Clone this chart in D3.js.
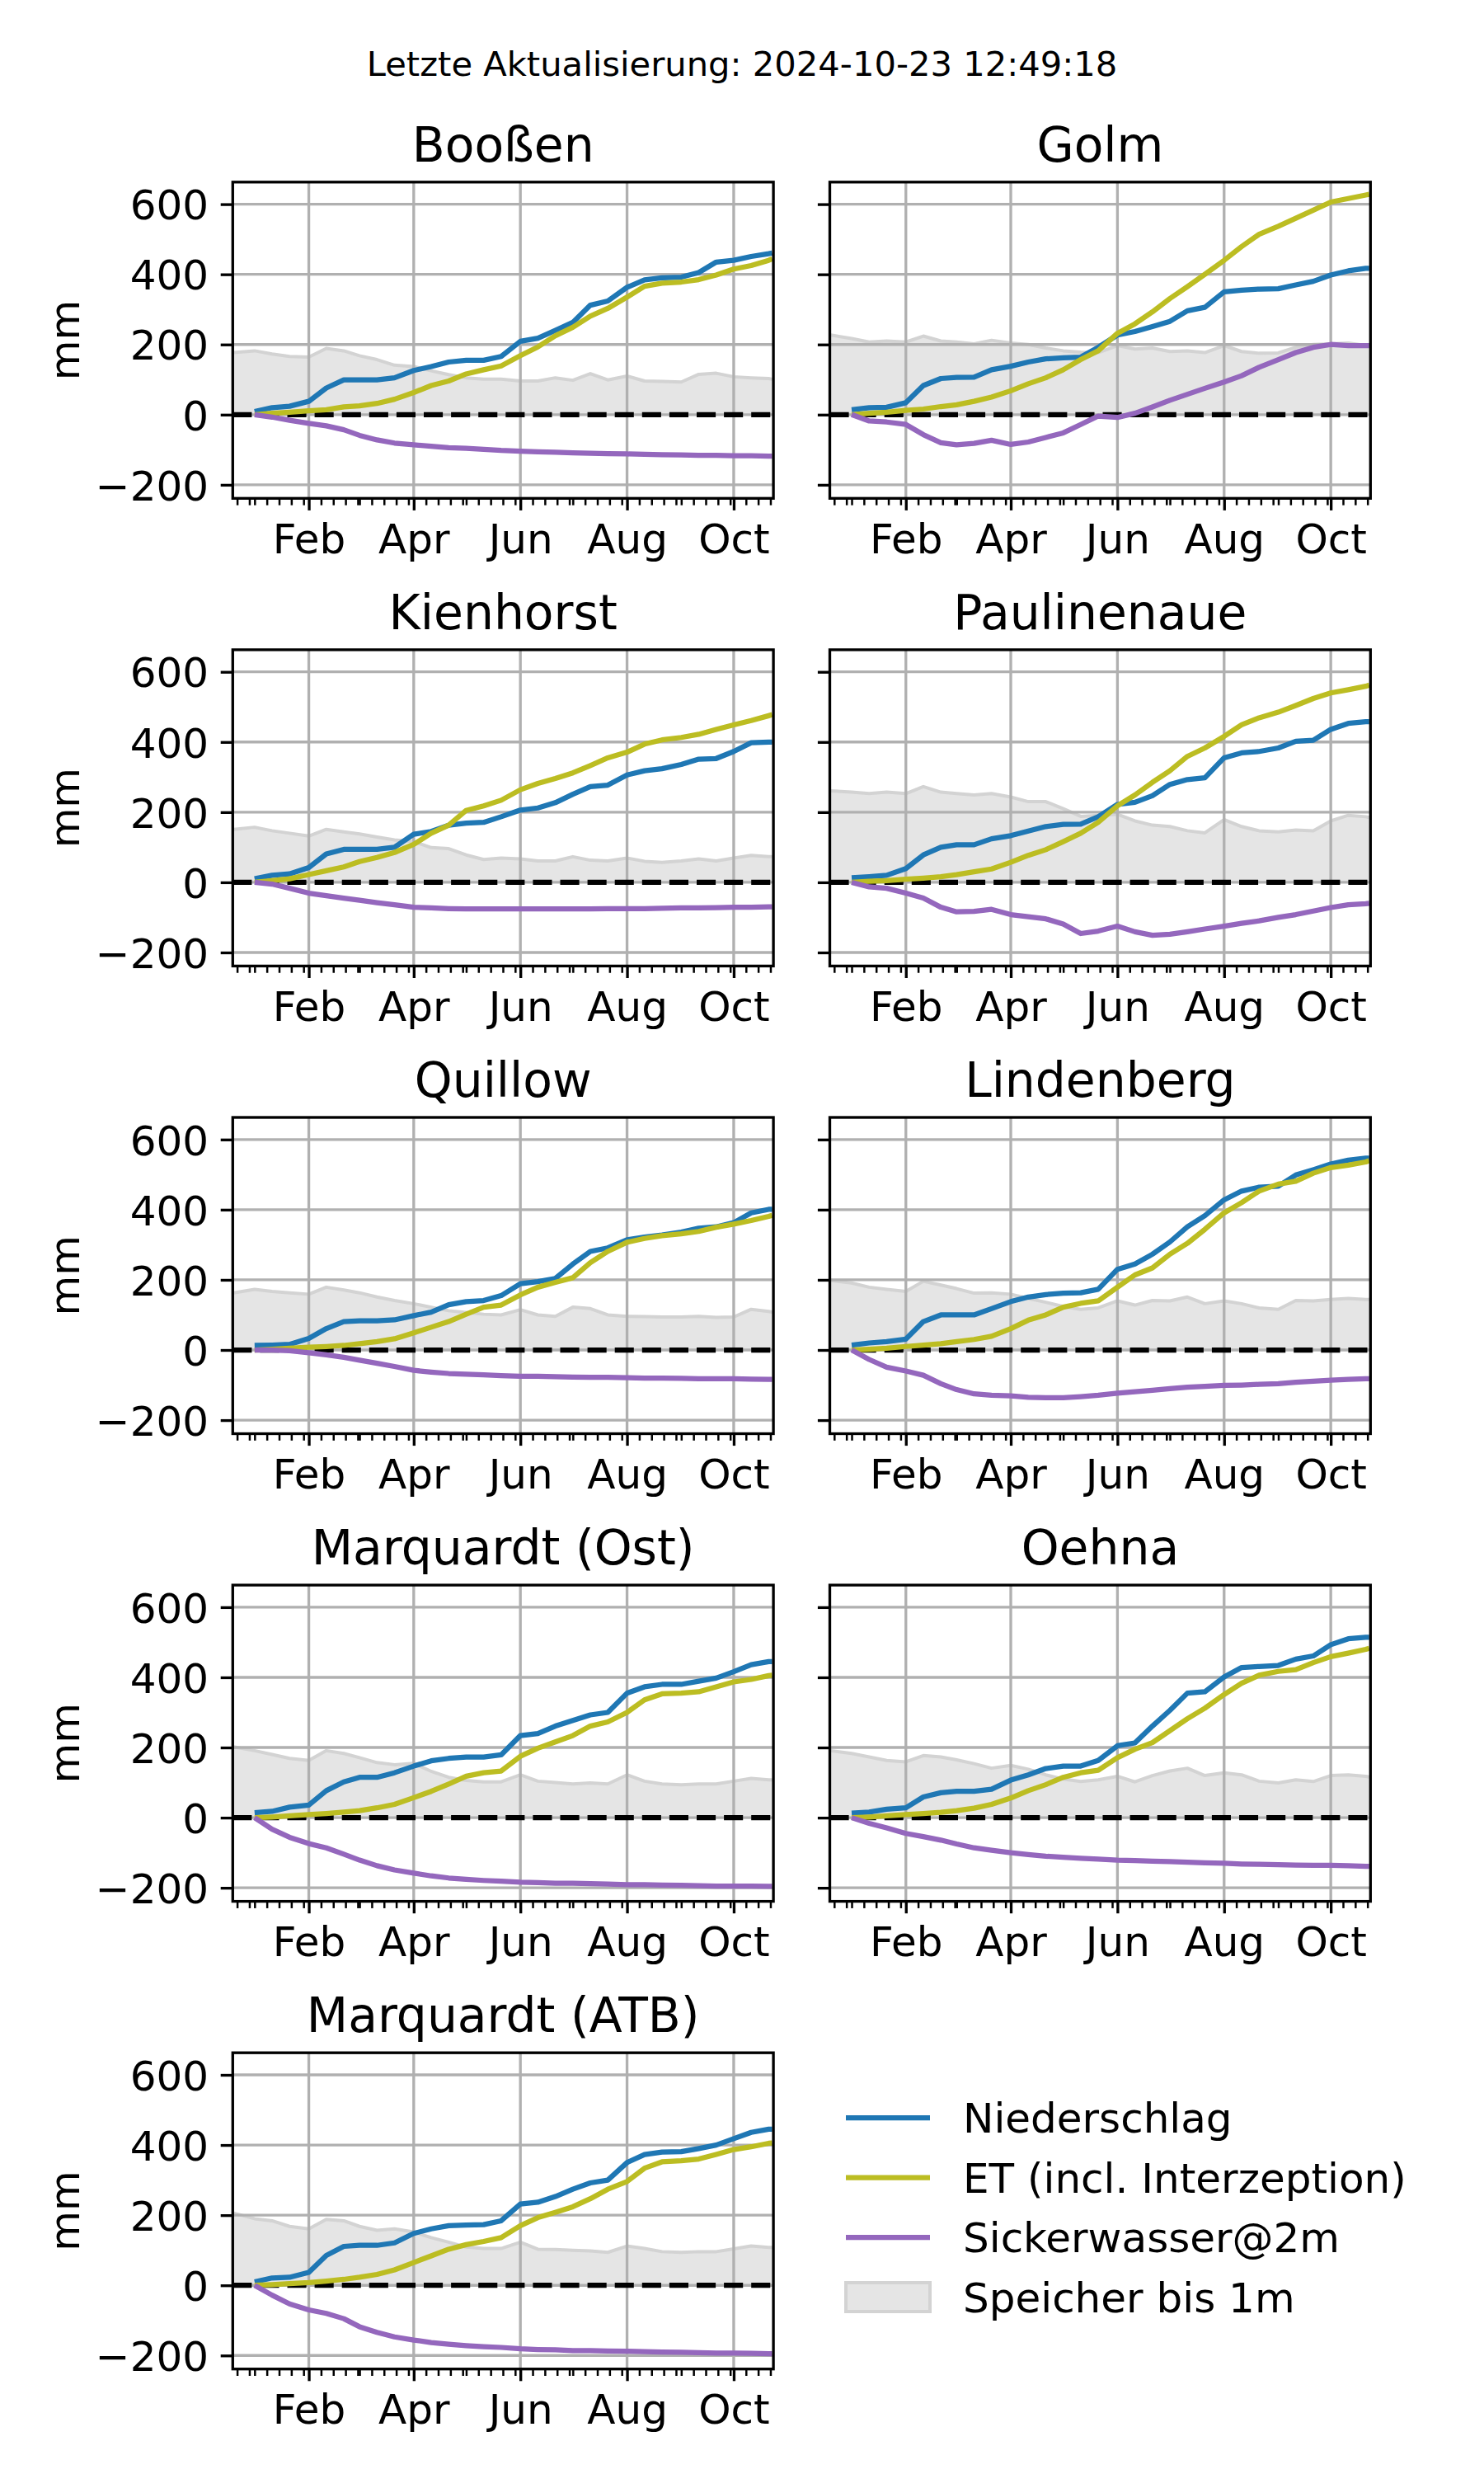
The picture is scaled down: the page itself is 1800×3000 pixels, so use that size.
<!DOCTYPE html>
<html><head><meta charset="utf-8">
<script src="https://cdn.jsdelivr.net/npm/d3@7"></script>
<style>body{margin:0;background:#fff}</style>
</head><body>
<script>
// ---------------- DATA ----------------
const updateText = "Letzte Aktualisierung: 2024-10-23 12:49:18";
const stations = ["Booßen","Golm","Kienhorst","Paulinenaue","Quillow","Lindenberg","Marquardt (Ost)","Oehna","Marquardt (ATB)"];
const seriesNames = ["Niederschlag","ET (incl. Interzeption)","Sickerwasser@2m","Speicher bis 1m"];
const dates = ["2024-01-01","2024-01-11","2024-01-21","2024-02-01","2024-02-11","2024-02-21","2024-03-01","2024-03-11","2024-03-21",
  "2024-04-01","2024-04-11","2024-04-21","2024-05-01","2024-05-11","2024-05-21","2024-06-01","2024-06-11","2024-06-21",
  "2024-07-01","2024-07-11","2024-07-21","2024-08-01","2024-08-11","2024-08-21","2024-09-01","2024-09-11","2024-09-21",
  "2024-10-01","2024-10-11","2024-10-21","2024-10-23"];
const speicherDates = ["2023-12-20"].concat(dates);
const majorTickDates = ["2024-02-01","2024-04-01","2024-06-01","2024-08-01","2024-10-01"];
const majorTickLabels = ["Feb","Apr","Jun","Aug","Oct"];
const yTicks = [-200,0,200,400,600];

const niederschlag = [
  [9,20,24,38,76,99,99,99,105,126,137,150,155,155,166,209,218,240,263,312,324,363,384,390,392,405,435,440,451,459,461],
  [14,20,21,34,83,103,106,107,128,138,150,159,162,164,192,227,237,251,266,296,306,350,355,358,359,370,380,398,410,417,417],
  [10,20,24,42,81,94,94,94,100,137,145,163,169,171,187,206,212,227,251,273,277,306,318,324,336,351,353,373,398,400,400],
  [13,16,20,39,78,100,107,107,124,133,146,159,165,166,187,222,228,247,279,293,298,355,369,373,383,402,405,436,453,458,458],
  [13,14,16,33,61,81,83,83,86,98,108,129,138,141,155,189,195,204,245,281,291,314,322,328,336,347,351,363,391,401,401],
  [14,20,24,31,81,100,100,100,118,138,151,158,162,163,173,230,245,273,308,351,383,428,453,464,467,499,514,530,541,547,547],
  [14,18,30,36,77,102,115,115,128,147,162,169,173,173,179,234,240,261,277,293,300,355,373,380,380,389,398,416,436,445,445],
  [13,16,24,28,59,71,75,75,81,107,122,140,147,147,163,205,213,261,306,355,359,401,428,431,434,452,461,493,510,514,514],
  [10,21,23,37,85,111,114,114,121,148,161,170,172,173,184,232,237,253,274,292,300,350,373,380,381,390,400,418,436,445,445]
];
const et = [
  [0,4,7,11,14,22,25,32,44,63,83,96,116,128,139,168,193,225,249,281,303,335,366,375,378,385,398,415,425,440,444],
  [0,4,7,12,16,23,28,38,50,68,88,105,128,157,182,232,259,293,331,365,400,440,479,514,537,560,583,606,616,626,628],
  [0,5,10,22,33,44,59,71,85,108,140,163,205,218,234,264,282,296,312,333,355,371,394,406,413,422,436,449,461,475,478],
  [0,3,5,9,12,16,22,30,38,57,77,93,116,140,171,218,249,285,318,359,383,416,449,469,485,504,524,540,549,559,562],
  [0,2,5,8,10,13,18,24,32,49,65,81,102,122,128,157,179,193,206,249,281,307,318,326,331,338,350,359,369,381,384],
  [0,2,5,10,14,18,24,30,39,61,85,100,122,133,140,179,214,234,273,304,344,391,420,453,473,481,504,520,527,536,540],
  [0,2,5,9,12,16,20,28,38,57,75,96,118,128,133,175,198,216,234,261,273,300,336,353,355,359,373,387,394,405,406],
  [0,2,5,9,12,15,20,27,38,56,77,94,115,128,135,171,195,214,248,282,312,351,383,406,417,422,442,459,469,480,483],
  [0,2,5,8,12,17,23,31,44,65,84,103,116,125,136,170,193,208,224,247,274,296,334,352,355,360,373,387,395,405,406]
];
const sickerwasser = [
  [0,-7,-16,-25,-32,-43,-59,-72,-81,-86,-90,-94,-96,-99,-102,-104,-106,-107,-109,-110,-111,-112,-113,-114,-115,-116,-116,-117,-117,-118,-118],
  [0,-18,-21,-28,-57,-80,-86,-82,-73,-85,-78,-65,-52,-28,-4,-8,4,22,41,58,75,93,111,135,157,177,192,200,197,197,197],
  [0,-5,-17,-31,-38,-45,-51,-58,-64,-71,-73,-75,-76,-76,-76,-76,-76,-76,-76,-76,-75,-75,-75,-74,-73,-73,-72,-71,-71,-70,-70],
  [0,-13,-17,-31,-45,-71,-84,-83,-77,-92,-98,-104,-119,-146,-139,-125,-141,-151,-148,-141,-133,-125,-117,-110,-100,-92,-82,-72,-64,-61,-60],
  [0,0,-2,-8,-14,-21,-29,-38,-47,-58,-63,-67,-69,-71,-73,-75,-75,-76,-77,-78,-78,-79,-80,-80,-81,-82,-82,-82,-83,-84,-84],
  [0,-27,-49,-60,-72,-96,-113,-125,-129,-131,-135,-136,-136,-133,-129,-123,-119,-115,-110,-106,-104,-101,-100,-98,-96,-92,-89,-86,-84,-82,-82],
  [0,-33,-56,-74,-86,-104,-121,-137,-149,-158,-166,-172,-176,-179,-181,-184,-185,-187,-187,-188,-189,-191,-191,-192,-193,-194,-195,-195,-195,-196,-196],
  [0,-16,-29,-45,-54,-64,-75,-86,-93,-100,-105,-110,-113,-116,-118,-121,-122,-124,-125,-127,-129,-130,-132,-133,-134,-135,-136,-136,-137,-139,-139],
  [0,-28,-53,-70,-80,-95,-118,-134,-147,-156,-163,-168,-172,-175,-177,-181,-183,-184,-186,-186,-187,-188,-189,-190,-191,-192,-193,-193,-194,-195,-195]
];
const speicher = [
  [177,182,173,166,164,189,182,168,157,141,137,125,114,105,101,101,96,96,105,98,117,99,110,96,95,93,115,118,108,105,103,101],
  [227,217,207,210,207,224,210,207,202,212,204,200,190,182,178,177,197,187,190,180,182,177,197,180,175,176,192,200,202,204,197,197],
  [151,157,147,140,132,151,144,138,129,121,116,99,96,78,65,69,67,61,61,73,63,61,69,60,57,61,67,61,69,77,73,73],
  [261,257,253,257,253,273,257,253,249,253,243,230,230,210,188,191,194,175,163,159,147,141,179,159,147,144,149,147,175,191,187,185],
  [163,173,167,163,159,179,171,163,151,141,132,122,112,107,102,100,115,100,96,122,118,100,96,95,94,94,96,93,94,116,110,108],
  [198,191,179,173,167,196,185,175,162,163,159,147,136,124,116,120,140,128,141,140,151,132,140,132,120,116,141,140,144,147,144,144],
  [202,191,180,169,163,191,183,171,157,151,155,132,115,106,102,102,122,104,100,96,99,96,122,104,96,94,96,96,104,112,108,108],
  [191,183,173,163,159,177,173,165,154,141,149,138,122,110,103,108,118,102,120,133,141,120,128,122,104,99,108,103,120,122,118,116],
  [206,190,184,168,161,188,184,168,157,161,152,136,123,109,105,105,123,103,102,100,98,94,112,105,96,94,96,96,104,112,108,108]
];

// ---------------- LAYOUT / STYLE ----------------
const W = 1800, H = 3000;
const FONT = '"DejaVu Sans", "Noto Sans", sans-serif';
const colLeft = [282.3, 1006.5];
const rowTop0 = 220.8, rowStep = 567.1;
const axW = 655.8, axH = 383.5;
const colors = {nied: "#1f77b4", et: "#bcbd22", sick: "#9467bd", fill: "#e5e5e5", fillEdge: "#d3d3d3", grid: "#b0b0b0"};
const LW = 6.25, SPINE = 3.33;

const svg = d3.select("body").append("svg")
  .attr("width", W).attr("height", H)
  .attr("font-family", FONT);
svg.append("rect").attr("width", W).attr("height", H).attr("fill", "#fff");

const parse = d3.utcParse("%Y-%m-%d");
const lineDates = dates.map(parse);
const fillDates = speicherDates.map(parse);
const majors = majorTickDates.map(parse);

const x = d3.scaleUtc()
  .domain([new Date(Date.UTC(2023, 11, 19, 12)), new Date(Date.UTC(2024, 9, 23, 17))])
  .range([0, axW]);
const y = d3.scaleLinear().domain([-238.6, 663]).range([axH, 0]);

const majorSet = new Set(majors.map(d => +d));
const minors = d3.utcDay.range(x.domain()[0], x.domain()[1])
  .filter(d => [1, 8, 15, 22, 29].includes(d.getUTCDate()) && !majorSet.has(+d));

const fmtY = d => d < 0 ? "\u2212" + Math.abs(d) : String(d);

svg.append("text").attr("x", 900).attr("y", 92)
  .attr("text-anchor", "middle").attr("font-size", 41.67).attr("fill", "#000")
  .text(updateText);

const lineGen = d3.line().x(d => x(d.d)).y(d => y(d.v));

stations.forEach((name, i) => {
  const col = i % 2, row = Math.floor(i / 2);
  const top = rowTop0 + row * rowStep;
  const g = svg.append("g").attr("transform", `translate(${colLeft[col]},${top})`);
  const cid = "clip" + i;
  g.append("clipPath").attr("id", cid).append("rect").attr("width", axW).attr("height", axH);
  const plot = g.append("g").attr("clip-path", `url(#${cid})`);

  // storage fill
  const sp = speicher[i].map((v, k) => ({d: fillDates[k], v}));
  const spExt = sp.concat([{d: x.domain()[1], v: sp[sp.length - 1].v}]);
  plot.append("path").datum(spExt)
    .attr("d", d3.area().x(d => x(d.d)).y0(y(0)).y1(d => y(d.v)))
    .attr("fill", colors.fill);
  plot.append("path").datum(spExt)
    .attr("d", lineGen)
    .attr("fill", "none").attr("stroke", colors.fillEdge).attr("stroke-width", 4)
    .attr("stroke-linejoin", "round");

  // grid
  plot.selectAll(".gx").data(majors).join("line")
    .attr("x1", d => x(d)).attr("x2", d => x(d)).attr("y1", 0).attr("y2", axH)
    .attr("stroke", colors.grid).attr("stroke-width", SPINE);
  plot.selectAll(".gy").data(yTicks).join("line")
    .attr("x1", 0).attr("x2", axW).attr("y1", d => y(d)).attr("y2", d => y(d))
    .attr("stroke", colors.grid).attr("stroke-width", SPINE);

  // zero dashed line
  plot.append("line").attr("x1", 0).attr("x2", axW).attr("y1", y(0)).attr("y2", y(0))
    .attr("stroke", "#000").attr("stroke-width", LW).attr("stroke-dasharray", "23.1,10");

  // series
  const series = [[niederschlag[i], colors.nied], [et[i], colors.et], [sickerwasser[i], colors.sick]];
  series.forEach(([vals, c]) => {
    plot.append("path").datum(vals.map((v, k) => ({d: lineDates[k], v})))
      .attr("d", lineGen).attr("fill", "none").attr("stroke", c)
      .attr("stroke-width", LW).attr("stroke-linejoin", "round").attr("stroke-linecap", "butt");
  });

  // y axis
  const ya = g.append("g").call(d3.axisLeft(y).tickValues(yTicks).tickSize(14.6).tickPadding(14.6)
    .tickFormat(col === 0 ? fmtY : () => ""));
  ya.select(".domain").remove();
  ya.selectAll("line").attr("stroke", "#000").attr("stroke-width", SPINE);
  ya.selectAll("text").attr("font-size", 50).attr("font-family", FONT).attr("fill", "#000").attr("dy", "0.365em");

  // x axis major
  const xa = g.append("g").attr("transform", `translate(0,${axH})`)
    .call(d3.axisBottom(x).tickValues(majors).tickSize(14.6).tickPadding(0)
      .tickFormat((d, k) => majorTickLabels[k]));
  xa.select(".domain").remove();
  xa.selectAll("line").attr("stroke", "#000").attr("stroke-width", SPINE);
  xa.selectAll("text").attr("font-size", 50).attr("font-family", FONT).attr("fill", "#000")
    .attr("y", 66.7).attr("dy", null);
  // x axis minor
  const xm = g.append("g").attr("transform", `translate(0,${axH})`)
    .call(d3.axisBottom(x).tickValues(minors).tickSize(8.33).tickFormat(() => ""));
  xm.select(".domain").remove();
  xm.selectAll("line").attr("stroke", "#000").attr("stroke-width", 2.5);

  // spines
  g.append("rect").attr("width", axW).attr("height", axH)
    .attr("fill", "none").attr("stroke", "#000").attr("stroke-width", SPINE);

  // title
  g.append("text").attr("x", axW / 2).attr("y", -25).attr("text-anchor", "middle")
    .attr("font-size", 58.33).attr("fill", "#000").text(name);

  // y label
  if (col === 0) {
    const cy = axH / 2;
    g.append("text").attr("transform", `translate(${96 - colLeft[0]},${cy}) rotate(-90)`)
      .attr("text-anchor", "middle").attr("font-size", 50).attr("fill", "#000").text("mm");
  }
});

// legend
const legY = [2568, 2640.5, 2713, 2785.5];
const leg = svg.append("g");
const legColors = [colors.nied, colors.et, colors.sick];
seriesNames.forEach((nm, k) => {
  if (k < 3) {
    leg.append("line").attr("x1", 1026).attr("x2", 1128).attr("y1", legY[k]).attr("y2", legY[k])
      .attr("stroke", legColors[k]).attr("stroke-width", LW);
  } else {
    leg.append("rect").attr("x", 1026).attr("y", legY[k] - 17.5).attr("width", 102).attr("height", 35)
      .attr("fill", colors.fill).attr("stroke", colors.fillEdge).attr("stroke-width", 4);
  }
  leg.append("text").attr("x", 1168).attr("y", legY[k] + 18).attr("font-size", 50).attr("fill", "#000").text(nm);
});
</script>
</body></html>
